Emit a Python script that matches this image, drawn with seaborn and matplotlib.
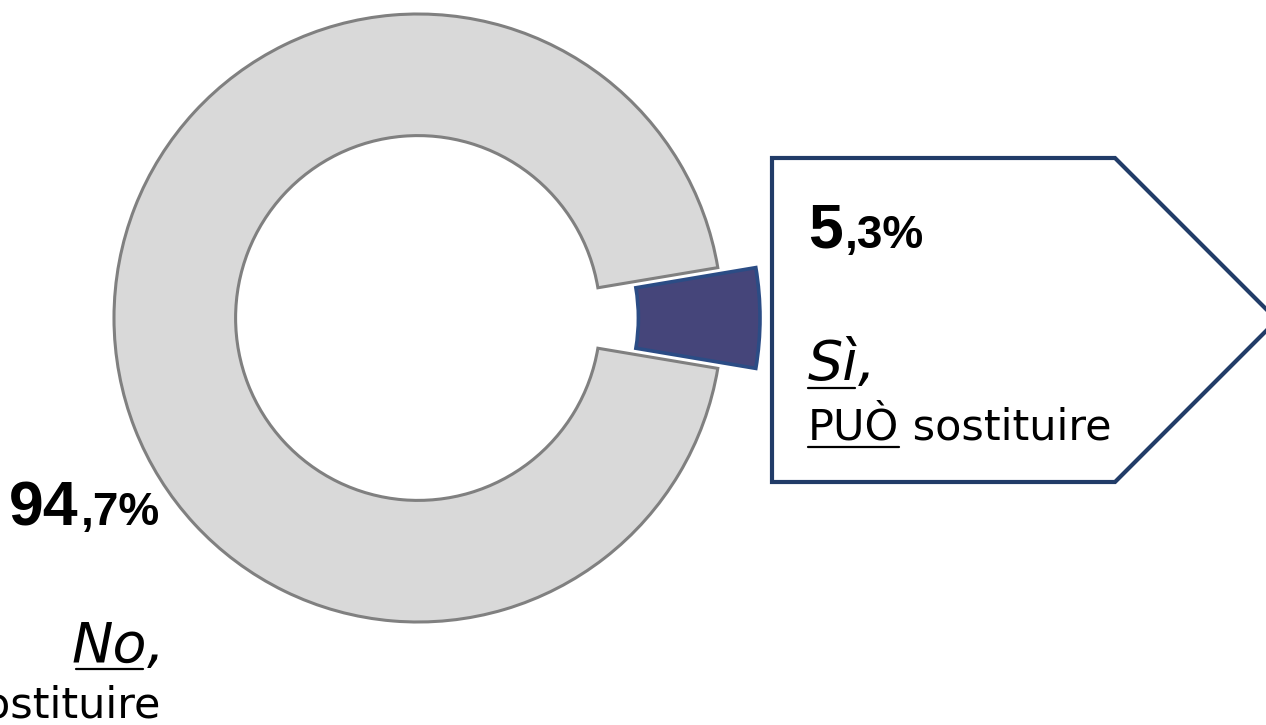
import matplotlib
matplotlib.use("Agg")
import matplotlib.pyplot as plt
import seaborn as sns
from matplotlib.patches import Polygon
from matplotlib.lines import Line2D

# ---- data ----
categories = ["Sì", "No"]
values = [5.3, 94.7]
pct_int = ["5", "94"]
pct_dec = [",3%", ",7%"]
answer_words = ["Sì", "No"]
answer_verbs = ["PUÒ", "NON PUÒ"]
answer_rest = " sostituire"
colors = ["#45457A", "#D9D9D9"]
edge_colors = ["#2B4C85", "#808080"]

sns.set_theme(style="white")
plt.rcParams['font.family'] = ['DejaVu Sans']
plt.rcParams['text.color'] = 'black'

W, H = 1266, 725
fig = plt.figure(figsize=(W / 100, H / 100), dpi=100)
fig.patch.set_facecolor("white")


def fx(x):
    return x / W


def fy(y):
    return 1 - y / H


# ---- donut ----
cx, cy, R = 418, 318, 304
L = 1.4
side = 2 * L * R
ax = fig.add_axes([(cx - L * R) / W, (H - cy - L * R) / H, side / W, side / H])
start = -values[0] / sum(values) * 180
wedges, _ = ax.pie(values, colors=colors, startangle=start, counterclock=True,
                   radius=1, explode=[0.125, 0],
                   wedgeprops=dict(width=0.4, linewidth=2.2))
for w, e in zip(wedges, edge_colors):
    w.set_edgecolor(e)
wedges[0].set_linewidth(2.6)
ax.set_xlim(-L, L)
ax.set_ylim(-L, L)
ax.axis("off")

# ---- callout shape ----
pts = [(772, 158), (1115, 158), (1277, 320), (1115, 482), (772, 482)]
poly = Polygon([(fx(x), fy(y)) for x, y in pts], closed=True,
               transform=fig.transFigure, facecolor="white",
               edgecolor="#213C68", linewidth=3, joinstyle="miter")
fig.add_artist(poly)

renderer = fig.canvas.get_renderer()


def txt(x, y, s, size, ha="left", **kw):
    return fig.text(fx(x), fy(y), s, fontsize=size, ha=ha, va="baseline",
                    color="black", **kw)


def xext(t):
    bb = t.get_window_extent(renderer)
    return bb.x0, bb.x1


def underline(x0, x1, y, lw=1.6):
    fig.add_artist(Line2D([fx(x0), fx(x1)], [fy(y), fy(y)],
                          transform=fig.transFigure, color="black", lw=lw))


NUMFONT = ["Liberation Sans", "DejaVu Sans"]

# ---- right label (Sì) ----
t = txt(808, 248, pct_int[0], 45, weight="bold", family=NUMFONT)
x1 = xext(t)[1]
txt(x1 + 2, 248, pct_dec[0], 33, weight="bold", family=NUMFONT)

t = txt(808, 380, answer_words[0], 40, style="italic")
a0, a1 = xext(t)
underline(808, a1 - 4, 388)
txt(a1 - 1, 380, ",", 40, style="italic")

t = txt(808, 440, answer_verbs[0], 31)
b0, b1 = xext(t)
underline(808, b1, 447)
txt(b1, 440, answer_rest, 31)

# ---- left label (No) ----
t = txt(160, 525, pct_dec[1], 33, ha="right", weight="bold", family=NUMFONT)
c0, c1 = xext(t)
txt(c0 - 2, 525, pct_int[1], 45, ha="right", weight="bold", family=NUMFONT)

t = txt(164, 662, ",", 40, ha="right", style="italic")
d0, d1 = xext(t)
t = txt(d0 + 1, 662, answer_words[1], 40, ha="right", style="italic")
e0, e1 = xext(t)
underline(e0 + 4, e1 - 4, 669)

txt(160, 718, answer_verbs[1] + answer_rest, 31, ha="right")

fig.savefig("out.png", dpi=100, facecolor="white")
